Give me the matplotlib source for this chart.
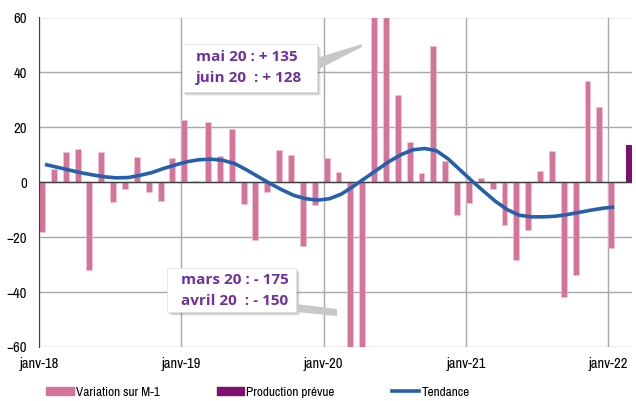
import numpy as np
import matplotlib
matplotlib.use("Agg")
import matplotlib.pyplot as plt
from matplotlib.patches import Rectangle, Polygon, Patch
from matplotlib.lines import Line2D

plt.rcParams['font.family'] = ['Liberation Sans Narrow', 'Archivo Narrow', 'Liberation Sans', 'DejaVu Sans']

# variation mensuelle janv-18 .. janv-22
variation = [-18, 5, 11, 12, -32, 11, -7.2, -2.4, 9.2, -3.6, -6.8, 8.9,
             22.6, 0.6, 22.1, 9.7, 19.3, -7.9, -21.1, -3.6, 11.7, 10.1, -23.3, -8.4,
             8.9, 3.6, -175, -150, 135, 128, 31.8, 14.8, 3.3, 49.8, 7.9, -12.0,
             -7.5, 1.6, -2.3, -15.5, -28.4, -17.5, 4.0, 11.3, -41.9, -33.6, 37.0, 27.3,
             -24.0]
# production prevue (fevr-22)
prevue_mois = [49]
prevue = [13.7]
tendance = [6.5, 5.5, 4.5, 3.5, 2.7, 2.0, 1.6, 1.7, 2.5, 3.5, 5.0, 6.3,
            7.5, 8.2, 8.4, 8.0, 6.8, 4.5, 2.0, -0.5, -2.8, -4.8, -6.0, -6.5,
            -6.0, -4.3, -1.5, 1.5, 4.5, 7.5, 10.0, 11.8, 12.3, 11.5, 8.5, 4.5,
            0.5, -3.3, -7.0, -10.0, -12.0, -12.6, -12.6, -12.4, -11.8, -11.0, -10.2, -9.5,
            -9.0]
xlabels = ['janv-18', 'janv-19', 'janv-20', 'janv-21', 'janv-22']

rose = '#D4749A'
violet = '#7D1170'
bleu = '#2560AC'
texte = '#7030A0'

W, H = 636, 401
fig = plt.figure(figsize=(W / 100, H / 100), dpi=100)
ax = fig.add_axes([39 / W, 1 - 347 / H, (632 - 39) / W, (347 - 17.5) / H])

mois = np.arange(len(variation))
ax.bar(mois + 0.25, variation, width=0.5, color=rose, edgecolor='#F0C8D8', linewidth=0.4, zorder=2)
ax.bar(np.array(prevue_mois) + 0.75, prevue, width=0.5, color=violet, zorder=2)
ax.plot(mois + 0.5, tendance, color=bleu, lw=2.6, zorder=3, solid_capstyle='butt')

ax.set_xlim(0, 50)
ax.set_ylim(-60, 60)
ax.set_yticks(range(-60, 61, 20))
ax.set_xticks([0, 12, 24, 36, 48])
ax.set_xticklabels(xlabels)
ax.tick_params(length=0, labelsize=10.5, colors='black')
ax.tick_params(axis='y', pad=8.5)
ax.tick_params(axis='x', pad=7)
ax.grid(True, color='#A8A8A8', lw=1)
ax.set_axisbelow(True)
for s in ['top', 'right', 'bottom']:
    ax.spines[s].set_visible(False)
ax.spines['left'].set_color('#404040')
ax.axhline(0, color='#404040', lw=1, zorder=2.5)

handles = [Patch(color=rose, label='Variation sur M-1'),
           Patch(color=violet, label='Production prévue'),
           Line2D([], [], color=bleu, lw=2.6, label='Tendance')]
fig.legend(handles=handles, loc='center', bbox_to_anchor=(258 / W, 1 - 392 / H), ncol=3,
           frameon=False, fontsize=9.5, handlelength=2.1, handleheight=0.5,
           handletextpad=0.15, columnspacing=4.3)


def fx(x, y):
    return x / W, 1 - y / H


def callout(x0, y0, x1, y1, pointe, lignes, tx, ty):
    # ombre
    for k, a in [(4, 0.06), (3, 0.08), (2, 0.1)]:
        fig.patches.append(Rectangle(fx(x0 + k, y1 + k), (x1 - x0) / W, (y1 - y0) / H,
                                     transform=fig.transFigure, color='black', alpha=a,
                                     lw=0, zorder=5))
    fig.patches.append(Polygon([fx(*p) for p in pointe], closed=True,
                               transform=fig.transFigure, color='#C8C8C8', lw=0, zorder=5))
    fig.patches.append(Rectangle(fx(x0, y1), (x1 - x0) / W, (y1 - y0) / H,
                                 transform=fig.transFigure, facecolor='white',
                                 edgecolor='#E0E0E0', lw=0.5, zorder=6))
    for i, l in enumerate(lignes):
        fig.text(*fx(tx, ty + i * 21), l, color=texte, fontsize=11, fontweight='bold',
                 family=['Open Sans', 'DejaVu Sans'], va='center', ha='left', zorder=7)


callout(182, 44, 317, 92, [(317, 58), (362, 44), (362, 47), (317, 70)],
        ['mai 20 : + 135', 'juin 20  : + 128'], 196, 57)
callout(167, 268, 296, 312, [(296, 304), (337, 309), (337, 316), (296, 312)],
        ['mars 20 : - 175', 'avril 20  : - 150'], 181, 280)

fig.savefig('out.png', dpi=100)
